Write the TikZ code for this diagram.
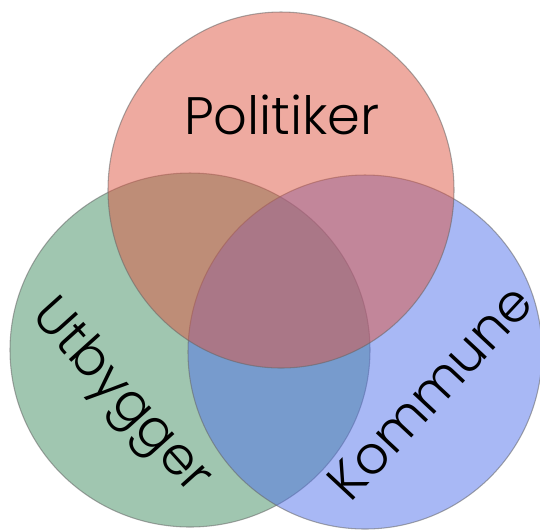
\documentclass[tikz,border=0pt]{standalone}
\usepackage{fontspec}
\setmainfont{Poppins}[UprightFont=* Light]
\definecolor{politikerred}{RGB}{221,85,65}
\definecolor{utbyggergreen}{RGB}{65,141,97}
\definecolor{kommuneblue}{RGB}{81,113,235}
\tikzset{
  venn/.style={fill opacity=0.5, draw=black!60, draw opacity=0.55, line width=0.6pt},
  vennlabel/.style={font=\fontsize{30}{36}\selectfont, text=black, inner sep=0pt}
}
\begin{document}
\begin{tikzpicture}[x=0.02cm, y=-0.02cm]
  % ramme (bildeutsnitt)
  \useasboundingbox (0,0) rectangle (540,529);
  \clip (0,0) rectangle (540,529);

  % sirkler: utbygger, kommune, politiker (rekkefoelge gir blandingsfargene)
  \draw[venn, fill=utbyggergreen] (190,350) ellipse [x radius=180, y radius=177];
  \draw[venn, fill=kommuneblue] (365,352) ellipse [x radius=177, y radius=177];
  \draw[venn, fill=politikerred] (281,190) ellipse [x radius=173, y radius=178];

  % etiketter
  \node[vennlabel] (politiker) at (282,115) {Politiker};
  \node[vennlabel, rotate=-48] (utbygger) at (120,398) {Utbygger};
  \node[vennlabel, rotate=47] (kommune) at (430,392) {Kommune};
\end{tikzpicture}
\end{document}
